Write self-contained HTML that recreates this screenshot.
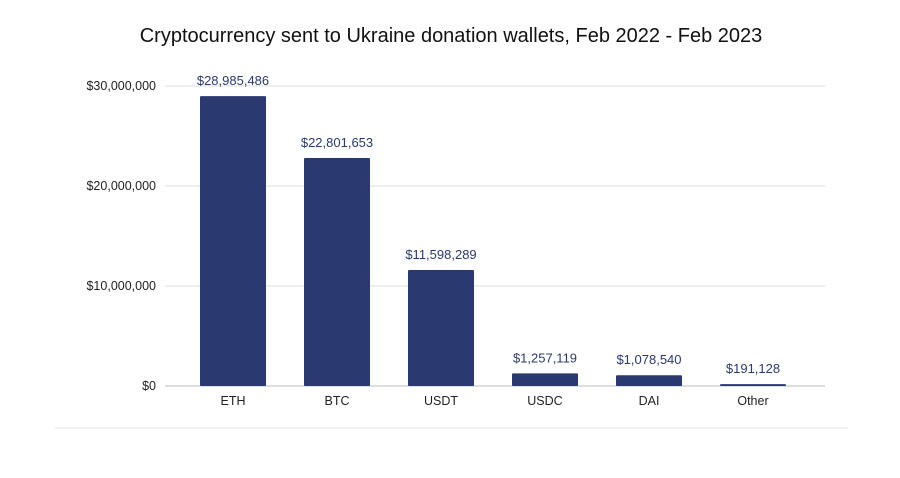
<!DOCTYPE html>
<html><head><meta charset="utf-8"><style>
body{margin:0;background:#fff;font-family:"Liberation Sans",sans-serif}
</style></head><body>
<svg width="900" height="473" xmlns="http://www.w3.org/2000/svg">
<text x="451" y="42" text-anchor="middle" font-size="20" fill="#111">Cryptocurrency sent to Ukraine donation wallets, Feb 2022 - Feb 2023</text>
<g id="grid"></g><g id="bars"></g>
<line x1="55" y1="428" x2="848" y2="428" stroke="#e6e6e6"/>
</svg>
<script>
const categories=["ETH","BTC","USDT","USDC","DAI","Other"];
const values=[28985486,22801653,11598289,1257119,1078540,191128];
const valueLabels=["$28,985,486","$22,801,653","$11,598,289","$1,257,119","$1,078,540","$191,128"];
const ticks=[0,10000000,20000000,30000000];
const tickLabels=["$0","$10,000,000","$20,000,000","$30,000,000"];
const NS="http://www.w3.org/2000/svg";
const y=v=>386-v/1e7*100;
const x=i=>200+i*104;
const bw=66;
function mk(t,a,p,txt){const e=document.createElementNS(NS,t);for(const k in a)e.setAttribute(k,a[k]);if(txt!=null)e.textContent=txt;p.appendChild(e);return e;}
const g=document.getElementById('grid'),b=document.getElementById('bars');
ticks.forEach((t,i)=>{
 const l=mk('line',{x1:165,x2:825,y1:y(t),y2:y(t),stroke:i==0?'#bbb':'#ddd','stroke-width':1},g);
 
 
 const tx=mk('text',{x:156,y:y(t)+4,'text-anchor':'end','font-size':12.5,fill:'#222'},g,tickLabels[i]);
 
 
});
categories.forEach((c,i)=>{
 const r=mk('rect',{x:x(i),y:y(values[i]),width:bw,height:386-y(values[i]),fill:'#2a3970',rx:1},b);
 
 
 const v=mk('text',{x:x(i)+bw/2,y:y(values[i])-11,'text-anchor':'middle','font-size':13,fill:'#2a3970'},b,valueLabels[i]);
 
 
 const cl=mk('text',{x:x(i)+bw/2,y:405,'text-anchor':'middle','font-size':12.5,fill:'#222'},b,c);
 
 
});
</script>
</body></html>
